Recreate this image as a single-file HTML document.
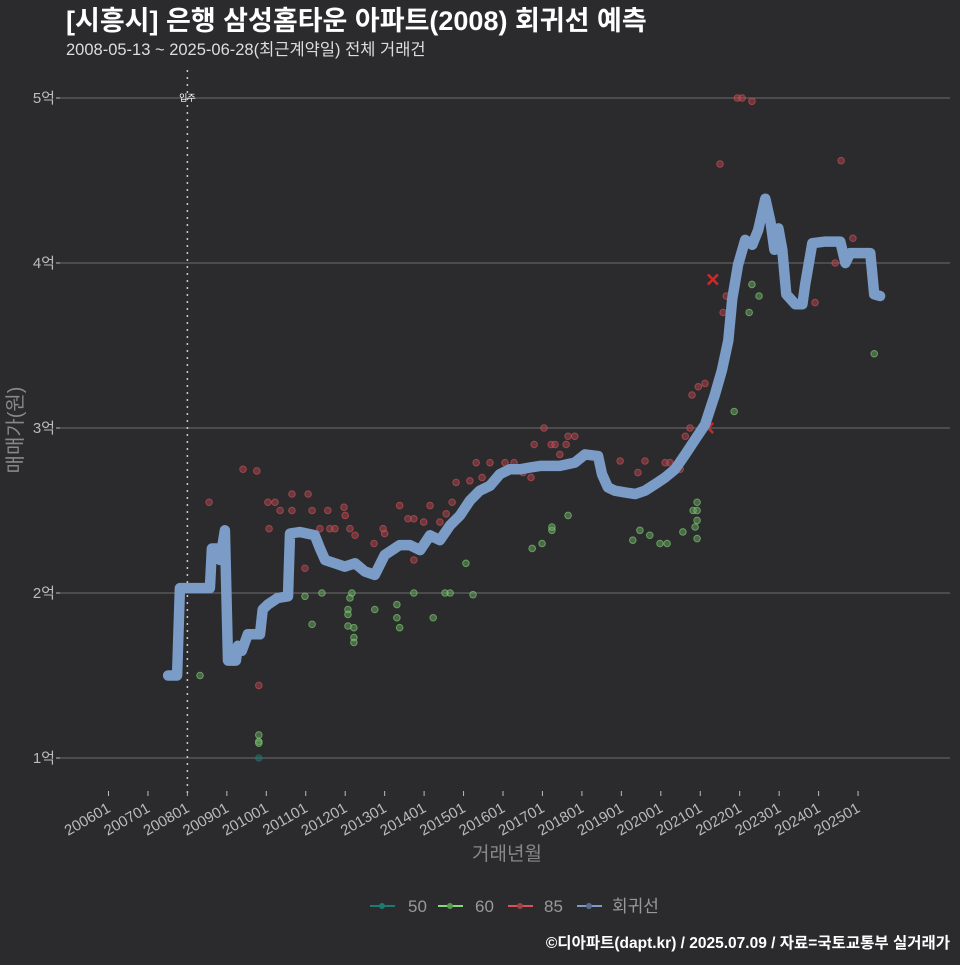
<!DOCTYPE html>
<html><head><meta charset="utf-8"><style>
html,body{margin:0;padding:0;background:#2b2b2d;}
svg text{font-family:"Liberation Sans","Noto Sans CJK KR",sans-serif;}
</style></head><body>
<svg id="chart" width="960" height="960" xmlns="http://www.w3.org/2000/svg">
<rect width="960" height="960" fill="#2b2b2d"/>
<text x="66" y="30" fill="#ffffff" font-size="27" font-weight="bold">[시흥시] 은행 삼성홈타운 아파트(2008) 회귀선 예측</text>
<text x="66" y="55" fill="#dddddd" font-size="16.5">2008-05-13 ~ 2025-06-28(최근계약일) 전체 거래건</text>
<g id="grid"></g>
<g id="axes"></g>
<g id="marks"></g>
<text transform="translate(22,430) rotate(-90)" text-anchor="middle" fill="#888888" font-size="20">매매가(원)</text>
<text x="507" y="860" text-anchor="middle" fill="#888888" font-size="19">거래년월</text>
<g>
<g><line x1="370" y1="906" x2="395" y2="906" stroke="#1d7a70" stroke-width="2"/><circle cx="382" cy="906" r="3" fill="#1d7a70"/><text x="408" y="912" fill="#999" font-size="17">50</text></g>
<g><line x1="438" y1="906" x2="463" y2="906" stroke="#86d97a" stroke-width="2"/><circle cx="450" cy="906" r="3" fill="#5a9a50"/><text x="475" y="912" fill="#999" font-size="17">60</text></g>
<g><line x1="508" y1="906" x2="533" y2="906" stroke="#d9525a" stroke-width="2"/><circle cx="520" cy="906" r="3" fill="#a04048"/><text x="544" y="912" fill="#999" font-size="17">85</text></g>
<g><line x1="577" y1="906" x2="602" y2="906" stroke="#7a9cc6" stroke-width="2"/><circle cx="589" cy="906" r="3" fill="#5a6f8f"/><text x="612" y="912" fill="#999" font-size="17">회귀선</text></g>
</g>
<text x="950" y="948" text-anchor="end" fill="#ffffff" font-size="15.5" font-weight="bold">©디아파트(dapt.kr) / 2025.07.09 / 자료=국토교통부 실거래가</text>
</svg>
<script>
const yTicks=[1,2,3,4,5];
const yTickLabels=["1억","2억","3억","4억","5억"];
const xTickYears=[2006,2007,2008,2009,2010,2011,2012,2013,2014,2015,2016,2017,2018,2019,2020,2021,2022,2023,2024,2025];
const xTickLabels=["200601","200701","200801","200901","201001","201101","201201","201301","201401","201501","201601","201701","201801","201901","202001","202101","202201","202301","202401","202501"];
const moveInYear=2008.0;
const regYears=[2007.51,2007.74,2007.81,2008.57,2008.62,2008.78,2008.83,2008.95,2009.03,2009.23,2009.28,2009.38,2009.53,2009.84,2009.91,2010.04,2010.29,2010.55,2010.6,2010.85,2011.23,2011.36,2011.49,2011.74,2011.99,2012.25,2012.5,2012.75,2013.0,2013.38,2013.64,2013.9,2014.15,2014.4,2014.66,2014.91,2015.16,2015.41,2015.67,2015.92,2016.17,2016.43,2016.68,2016.94,2017.44,2017.82,2018.08,2018.41,2018.51,2018.66,2018.84,2019.09,2019.35,2019.6,2019.86,2020.11,2020.36,2020.62,2020.87,2021.12,2021.37,2021.55,2021.71,2021.81,2021.96,2022.14,2022.32,2022.47,2022.65,2022.78,2022.88,2022.98,2023.08,2023.18,2023.41,2023.59,2023.66,2023.84,2024.17,2024.55,2024.68,2024.8,2025.11,2025.31,2025.41,2025.56];
const regValues=[1.50,1.50,2.03,2.03,2.27,2.27,2.20,2.38,1.59,1.59,1.68,1.65,1.75,1.75,1.90,1.93,1.97,1.98,2.36,2.37,2.35,2.27,2.20,2.18,2.16,2.18,2.13,2.11,2.23,2.29,2.29,2.26,2.35,2.32,2.41,2.47,2.56,2.62,2.65,2.72,2.75,2.75,2.76,2.77,2.77,2.79,2.84,2.83,2.72,2.64,2.62,2.61,2.60,2.62,2.66,2.70,2.75,2.84,2.93,3.02,3.20,3.35,3.53,3.78,3.99,4.14,4.11,4.20,4.39,4.25,4.08,4.21,4.08,3.81,3.75,3.75,3.87,4.12,4.13,4.13,4.00,4.06,4.06,4.06,3.81,3.80];
const redYears=[2008.55,2009.41,2009.76,2009.81,2010.04,2010.22,2010.07,2010.35,2010.65,2010.65,2011.06,2011.16,2010.98,2011.36,2011.61,2011.56,2011.74,2011.97,2012.0,2012.12,2012.25,2012.73,2012.96,2013.0,2013.38,2013.59,2013.74,2013.74,2013.99,2014.15,2014.4,2014.56,2014.71,2014.81,2015.16,2015.32,2015.47,2015.67,2016.05,2016.28,2016.51,2016.71,2016.79,2017.04,2017.22,2017.32,2017.44,2017.6,2017.65,2017.82,2018.97,2019.42,2019.6,2020.11,2020.23,2020.49,2020.62,2020.74,2020.79,2020.95,2021.12,2021.5,2021.58,2021.66,2021.94,2022.06,2022.31,2023.91,2024.42,2024.57,2024.87];
const redValues=[2.55,2.75,2.74,1.44,2.55,2.55,2.39,2.5,2.6,2.5,2.6,2.5,2.15,2.39,2.39,2.5,2.39,2.52,2.47,2.39,2.35,2.3,2.39,2.36,2.53,2.45,2.45,2.2,2.43,2.53,2.43,2.48,2.55,2.67,2.68,2.79,2.7,2.79,2.79,2.79,2.73,2.7,2.9,3.0,2.9,2.9,2.84,2.9,2.95,2.95,2.8,2.73,2.8,2.79,2.79,2.75,2.95,3.0,3.2,3.25,3.27,4.6,3.7,3.8,5.0,5.0,4.98,3.76,4.0,4.62,4.15];
const redXYears=[2021.32,2021.2];
const redXValues=[3.9,3.0];
const greenYears=[2008.32,2009.81,2009.81,2009.81,2010.98,2011.16,2011.41,2012.07,2012.07,2012.07,2012.12,2012.17,2012.22,2012.22,2012.22,2012.75,2013.31,2013.31,2013.38,2013.74,2014.23,2014.53,2014.66,2015.06,2015.24,2016.74,2016.99,2017.24,2017.24,2017.65,2019.29,2019.47,2019.72,2019.98,2020.16,2020.56,2020.82,2020.92,2020.92,2020.92,2020.87,2020.92,2021.86,2022.24,2022.31,2022.49,2025.41];
const greenValues=[1.5,1.14,1.1,1.09,1.98,1.81,2.0,1.9,1.87,1.8,1.97,2.0,1.79,1.73,1.7,1.9,1.93,1.85,1.79,2.0,1.85,2.0,2.0,2.18,1.99,2.27,2.3,2.38,2.4,2.47,2.32,2.38,2.35,2.3,2.3,2.37,2.5,2.5,2.55,2.44,2.4,2.33,3.1,3.7,3.87,3.8,3.45];
const tealYears=[2009.81];
const tealValues=[1.0];

const NS="http://www.w3.org/2000/svg";
function xs(yr){return 108.5+(yr-2006)*39.45;}
function ys(v){return 758-(v-1)*165;}
function mk(tag,attrs,parent){const e=document.createElementNS(NS,tag);for(const k in attrs)e.setAttribute(k,attrs[k]);parent.appendChild(e);return e;}
const grid=document.getElementById('grid'),axes=document.getElementById('axes'),marks=document.getElementById('marks');
yTicks.forEach((t,i)=>{
  const l=mk('line',{x1:60,x2:950,y1:ys(t),y2:ys(t),stroke:'#6e6e6e','stroke-width':1},grid);
  
  
  const tk=mk('line',{x1:56,x2:60,y1:ys(t),y2:ys(t),stroke:'#bbb','stroke-width':1},axes);
  
  
  const tx=mk('text',{x:55,y:ys(t)+5,'text-anchor':'end',fill:'#bbbbbb','font-size':15},axes);
  tx.textContent=yTickLabels[i];
  
  
});
xTickYears.forEach((yr,i)=>{
  const x=xs(yr);
  const tk=mk('line',{x1:x,x2:x,y1:791,y2:796,stroke:'#bbb','stroke-width':1},axes);
  
  
  const tx=mk('text',{x:x+3,y:811,'text-anchor':'end',fill:'#bbbbbb','font-size':15,transform:`rotate(-30 ${x+3} 811)`},axes);
  tx.textContent=xTickLabels[i];
  
  
});
const mv=mk('line',{x1:xs(moveInYear),x2:xs(moveInYear),y1:70,y2:796,stroke:'#cccccc','stroke-width':1.5,'stroke-dasharray':'2,5'},grid);


const mvl=mk('text',{x:xs(moveInYear),y:ys(5)+3,'text-anchor':'middle',fill:'#ffffff','font-size':9},grid);
mvl.textContent='입주';


function dots(years,vals,fill,stroke,name){
  years.forEach((yr,i)=>{
    const c=mk('circle',{cx:xs(yr),cy:ys(vals[i]),r:3.3,fill:fill,stroke:stroke,'stroke-width':1,'fill-opacity':0.5,'stroke-opacity':0.6},marks);
    
    
  });
}
dots(tealYears,tealValues,'#1d7a70','#1d7a70','point-50');
dots(greenYears,greenValues,'#6aa860','#86d97a','point-60');
dots(redYears,redValues,'#b0454d','#d9525a','point-85');
redXYears.forEach((yr,i)=>{
  const x=xs(yr),y=ys(redXValues[i]);
  const p=mk('path',{d:`M${x-5},${y-5}L${x+5},${y+5}M${x-5},${y+5}L${x+5},${y-5}`,stroke:'#cc2a2a','stroke-width':2.5},marks);
  
  
});
const d=regYears.map((yr,i)=>(i?'L':'M')+xs(yr).toFixed(1)+','+ys(regValues[i]).toFixed(1)).join('');
const rl=mk('path',{d:d,fill:'none',stroke:'#7a9cc6','stroke-width':10.5,'stroke-linejoin':'round','stroke-linecap':'round'},marks);


</script>
</body></html>
